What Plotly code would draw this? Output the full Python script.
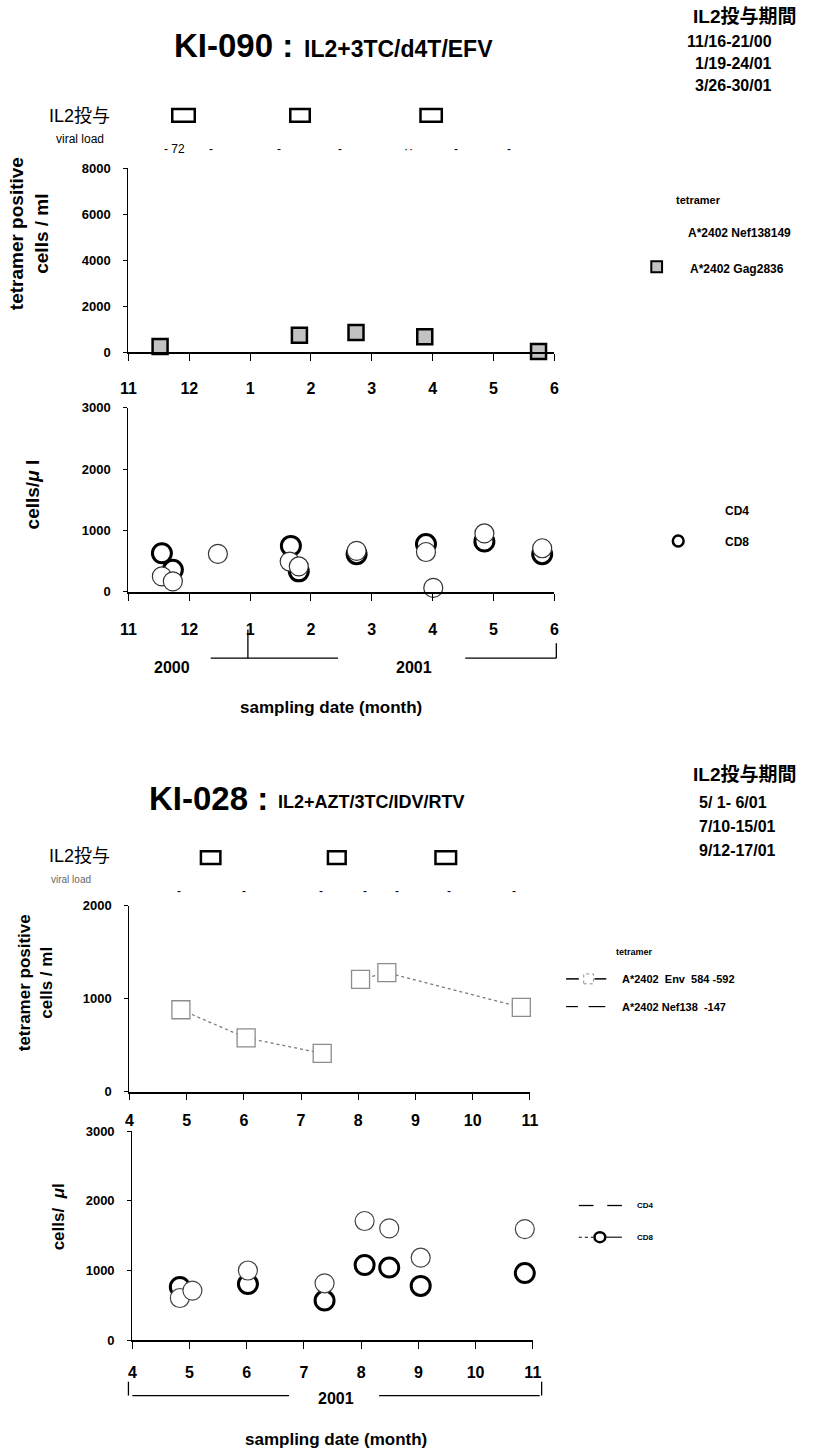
import plotly.graph_objects as go

W, H = 815, 1455
def px(x): return x / W
def py(y): return 1 - y / H

NARROW = "Liberation Sans, Arial, Noto Sans CJK JP, sans-serif"
SANS = "Liberation Sans, Arial, Noto Sans CJK JP, sans-serif"
JP = "Liberation Sans, Noto Sans CJK JP, sans-serif"

# ---------------- KI-090 (x = months since 1 Nov 2000) ----------------
ki090_tick_vals = [0, 1, 2, 3, 4, 5, 6, 7]
ki090_tick_text = ["11", "12", "1", "2", "3", "4", "5", "6"]
ki090_tet_y_ticks = [0, 2000, 4000, 6000, 8000]
ki090_cell_y_ticks = [0, 1000, 2000, 3000]

ki090_gag_x = [0.52, 2.81, 3.74, 4.87, 6.74]
ki090_gag = [260, 750, 860, 680, 40]

ki090_cd4_x = [0.55, 0.73, 2.67, 2.80, 3.75, 4.89, 5.85, 6.80]
ki090_cd4 = [630, 360, 750, 335, 615, 780, 820, 615]
ki090_cd8_x = [0.55, 0.73, 1.47, 2.65, 2.80, 3.75, 4.89, 5.01, 5.85, 6.80]
ki090_cd8 = [253, 172, 620, 495, 415, 668, 650, 65, 953, 711]

ki090_il2_start = [0.72, 2.66, 4.80]
ki090_il2_end = [1.09, 2.98, 5.15]
ki090_vl_x = [0.76, 1.35, 2.48, 3.48, 4.56, 4.64, 5.38, 6.25]
ki090_vl_text = ["- 72", "-", "-", "-", "·", "·", "-", "-"]
ki090_periods = ["11/16-21/00", "1/19-24/01", "3/26-30/01"]

# ---------------- KI-028 (x = month of 2001) ----------------
ki028_tick_vals = [4, 5, 6, 7, 8, 9, 10, 11]
ki028_tick_text = ["4", "5", "6", "7", "8", "9", "10", "11"]
ki028_tet_y_ticks = [0, 1000, 2000]
ki028_cell_y_ticks = [0, 1000, 2000, 3000]

ki028_env_x = [4.90, 6.04, 7.37, 8.04, 8.50, 10.85]
ki028_env = [881, 579, 412, 1208, 1279, 906]
ki028_env_segment = [0, 0, 0, 1, 1, 1]

ki028_cd4_x = [4.83, 6.02, 7.36, 8.06, 8.49, 9.04, 10.86]
ki028_cd4 = [763, 805, 568, 1079, 1042, 779, 963]
ki028_cd8_x = [4.83, 5.05, 6.02, 7.36, 8.06, 8.49, 9.04, 10.86]
ki028_cd8 = [605, 711, 1000, 816, 1711, 1605, 1184, 1595]

ki028_il2_start = [5.25, 7.47, 9.35]
ki028_il2_end = [5.59, 7.78, 9.71]
ki028_vl_x = [4.86, 6.01, 7.35, 8.11, 8.68, 9.58, 10.73]
ki028_periods = ["5/ 1- 6/01", "7/10-15/01", "9/12-17/01"]

fig = go.Figure()

# panel 1: tetramer KI-090
fig.add_trace(go.Scatter(x=ki090_gag_x, y=ki090_gag, mode="markers", xaxis="x", yaxis="y",
                         marker=dict(symbol="square", size=15, color="#c2c2c2",
                                     line=dict(color="black", width=2.5)),
                         cliponaxis=False, showlegend=False, name="A*2402 Gag2836"))
# panel 2: CD4/CD8 KI-090
fig.add_trace(go.Scatter(x=ki090_cd4_x, y=ki090_cd4, mode="markers", xaxis="x2", yaxis="y2",
                         marker=dict(symbol="circle", size=19, color="white",
                                     line=dict(color="black", width=3)),
                         cliponaxis=False, showlegend=False, name="CD4"))
fig.add_trace(go.Scatter(x=ki090_cd8_x, y=ki090_cd8, mode="markers", xaxis="x2", yaxis="y2",
                         marker=dict(symbol="circle", size=19, color="white",
                                     line=dict(color="#333", width=1.2)),
                         cliponaxis=False, showlegend=False, name="CD8"))
# panel 3: tetramer KI-028
for seg in sorted(set(ki028_env_segment)):
    xs = [x for x, s in zip(ki028_env_x, ki028_env_segment) if s == seg]
    ys = [y for y, s in zip(ki028_env, ki028_env_segment) if s == seg]
    fig.add_trace(go.Scatter(x=xs, y=ys, mode="lines", xaxis="x3", yaxis="y3",
                             line=dict(color="#7a7a7a", width=1.3, dash="dot"),
                             showlegend=False, hoverinfo="skip"))
fig.add_trace(go.Scatter(x=ki028_env_x, y=ki028_env, mode="markers", xaxis="x3", yaxis="y3",
                         marker=dict(symbol="square", size=18, color="white",
                                     line=dict(color="#8c8c8c", width=1.3)),
                         cliponaxis=False, showlegend=False, name="A*2402 Env 584-592"))
# panel 4: CD4/CD8 KI-028
fig.add_trace(go.Scatter(x=ki028_cd4_x, y=ki028_cd4, mode="markers", xaxis="x4", yaxis="y4",
                         marker=dict(symbol="circle", size=19, color="white",
                                     line=dict(color="black", width=3)),
                         cliponaxis=False, showlegend=False, name="CD4"))
fig.add_trace(go.Scatter(x=ki028_cd8_x, y=ki028_cd8, mode="markers", xaxis="x4", yaxis="y4",
                         marker=dict(symbol="circle", size=19, color="white",
                                     line=dict(color="#444", width=1.2)),
                         cliponaxis=False, showlegend=False, name="CD8"))


def xaxis(x0, x1, rng, vals, text, anchor, standoff, fs):
    return dict(domain=[px(x0), px(x1)], range=rng, tickmode="array", tickvals=vals, ticktext=text,
                showline=True, linecolor="black", linewidth=1.5, ticks="outside", ticklen=7,
                tickwidth=1.3, tickcolor="black", showgrid=False, zeroline=False, anchor=anchor,
                ticklabelstandoff=standoff, fixedrange=True,
                tickfont=dict(family=NARROW, size=fs, color="black", weight="bold"))


def yaxis(top, bottom, rng, vals, anchor, fs):
    return dict(domain=[py(bottom), py(top)], range=rng, tickmode="array", tickvals=vals,
                showline=True, linecolor="black", linewidth=1.3, ticks="outside", ticklen=4,
                tickwidth=1.2, tickcolor="black", showgrid=False, zeroline=False, anchor=anchor,
                ticklabelstandoff=10, fixedrange=True,
                tickfont=dict(family=NARROW, size=fs, color="black", weight="bold"))


fig.update_layout(
    width=W, height=H, margin=dict(l=0, r=0, t=0, b=0),
    paper_bgcolor="white", plot_bgcolor="white", showlegend=False,
    xaxis=xaxis(123, 558, [0, 7], ki090_tick_vals, ki090_tick_text, "y", 14, 16),
    yaxis=yaxis(163, 349, [0, 8000], ki090_tet_y_ticks, "x", 13),
    xaxis2=xaxis(123, 558, [0, 7], ki090_tick_vals, ki090_tick_text, "y2", 15, 16),
    yaxis2=yaxis(405, 591, [0, 3000], ki090_cell_y_ticks, "x2", 13),
    xaxis3=xaxis(124, 533, [4, 11], ki028_tick_vals, ki028_tick_text, "y3", 6, 16),
    yaxis3=yaxis(908, 1096, [0, 2000], ki028_tet_y_ticks, "x3", 13),
    xaxis4=xaxis(127, 536, [4, 11], ki028_tick_vals, ki028_tick_text, "y4", 10, 16),
    yaxis4=yaxis(1136, 1347, [0, 3000], ki028_cell_y_ticks, "x4", 13),
)

ann = []
shapes = []


def text(x, y, s, size, family=NARROW, bold=True, xanchor="center", yanchor="middle", angle=0, color="black"):
    ann.append(dict(x=px(x), y=py(y), xref="paper", yref="paper", text=s, showarrow=False,
                    xanchor=xanchor, yanchor=yanchor, textangle=angle,
                    font=dict(family=family, size=size, color=color, weight="bold" if bold else "normal")))


def pline(x0, y0, x1, y1, width=1.3, dash="solid", color="black"):
    shapes.append(dict(type="line", xref="paper", yref="paper", x0=px(x0), y0=py(y0), x1=px(x1), y1=py(y1),
                       line=dict(color=color, width=width, dash=dash)))


# ---------- KI-090 header ----------
text(168, 39, "KI-090 :", 33, xanchor="left")
text(300, 42, "IL2+3TC/d4T/EFV", 23, xanchor="left")
text(752, 10, "IL2投与期間", 19, family=JP)
for i, s in enumerate(ki090_periods):
    text(782, 35 + 22 * i, s, 16, xanchor="right")
text(40, 110, "IL2投与", 18, family=JP, bold=False, xanchor="left")
for s0, s1 in zip(ki090_il2_start, ki090_il2_end):
    shapes.append(dict(type="rect", xref="x", yref="paper", x0=s0, x1=s1, y0=py(116), y1=py(103),
                       line=dict(color="black", width=2.5), fillcolor="white"))
text(47, 133, "viral load", 12, bold=False, xanchor="left")
for xv, s in zip(ki090_vl_x, ki090_vl_text):
    ann.append(dict(x=xv, y=py(134), xref="x", yref="paper", text=s, showarrow=False,
                    font=dict(family=NARROW, size=12, color="black")))

# y titles
text(21, 229, "tetramer positive<br>cells / ml", 19, family=SANS, angle=-90)
text(25, 492, "cells/<i>μ</i> l", 19, family=SANS, angle=-90)

# legend panel 1
text(705, 195, "tetramer", 11)
text(692, 228, "A*2402 Nef138149", 12, xanchor="left")
shapes.append(dict(type="rect", xref="paper", yref="paper", x0=px(657), x1=px(668), y0=py(268), y1=py(257),
                   line=dict(color="black", width=2), fillcolor="#c2c2c2"))
text(694, 265, "A*2402 Gag2836", 12, xanchor="left")
# legend panel 2
text(730, 509, "CD4", 12, xanchor="left")
shapes.append(dict(type="circle", xref="paper", yref="paper", x0=px(679), x1=px(690), y0=py(545), y1=py(534),
                   line=dict(color="black", width=2.5), fillcolor="white"))
text(730, 541, "CD8", 12, xanchor="left")

# year bracket KI-090
pline(207, 658, 337, 658)
pline(245, 629, 245, 658)
pline(467, 658, 560, 658)
pline(560, 643, 560, 658)
text(168, 667, "2000", 16)
text(415, 667, "2001", 16)
text(330, 708, "sampling date (month)", 17, family=SANS)

# ---------- KI-028 header ----------
text(142, 800, "KI-028 :", 33, xanchor="left")
text(274, 803, "IL2+AZT/3TC/IDV/RTV", 18, xanchor="left")
text(752, 775, "IL2投与期間", 19, family=JP)
for i, s in enumerate(ki028_periods):
    text(704, 804 + 24 * i, s, 16, xanchor="left")
text(40, 858, "IL2投与", 18, family=JP, bold=False, xanchor="left")
for s0, s1 in zip(ki028_il2_start, ki028_il2_end):
    shapes.append(dict(type="rect", xref="x3", yref="paper", x0=s0, x1=s1, y0=py(866), y1=py(853),
                       line=dict(color="black", width=2.5), fillcolor="white"))
text(42, 882, "viral load", 10, bold=False, color="#666", xanchor="left")
for xv in ki028_vl_x:
    ann.append(dict(x=xv, y=py(893), xref="x3", yref="paper", text="-", showarrow=False,
                    font=dict(family=NARROW, size=12, color="black")))

text(28, 986, "tetramer positive<br>cells / ml", 17, family=SANS, angle=-90)
text(51, 1222, "cells/  <i>μ</i>l", 17, family=SANS, angle=-90)

# legend panel 3
text(640, 955, "tetramer", 9)
pline(570, 982, 583, 982, width=1.5)
shapes.append(dict(type="rect", xref="paper", yref="paper", x0=px(588), x1=px(598), y0=py(987), y1=py(977),
                   line=dict(color="#8c8c8c", width=1, dash="dot"), fillcolor="white"))
pline(599, 982, 611, 982, width=1.5)
text(625, 982, "A*2402  Env  584 -592", 11, xanchor="left")
pline(570, 1010, 582, 1010, width=1.2)
pline(593, 1010, 610, 1010, width=1.2)
text(625, 1010, "A*2402 Nef138  -147", 11, xanchor="left")

# legend panel 4
pline(583, 1211, 598, 1211, width=1.3)
pline(612, 1211, 627, 1211, width=1.3)
text(640, 1211, "CD4", 8, xanchor="left")
pline(583, 1243, 598, 1243, width=1.1, dash="dot")
pline(610, 1243, 627, 1243, width=1.1)
shapes.append(dict(type="circle", xref="paper", yref="paper", x0=px(599), x1=px(610), y0=py(1248), y1=py(1238),
                   line=dict(color="black", width=2.5), fillcolor="white"))
text(640, 1243, "CD8", 8, xanchor="left")

# year bracket KI-028
pline(123, 1389, 123, 1403)
pline(127, 1403, 287, 1403)
pline(379, 1403, 543, 1403)
pline(545, 1389, 545, 1403)
text(335, 1406, "2001", 16)
text(335, 1447, "sampling date (month)", 17, family=SANS)

fig.update_layout(annotations=ann, shapes=shapes)
fig.write_html("out.html", config={"displayModeBar": False},
               post_script="document.body.style.margin='0';document.body.style.overflow='hidden';")
